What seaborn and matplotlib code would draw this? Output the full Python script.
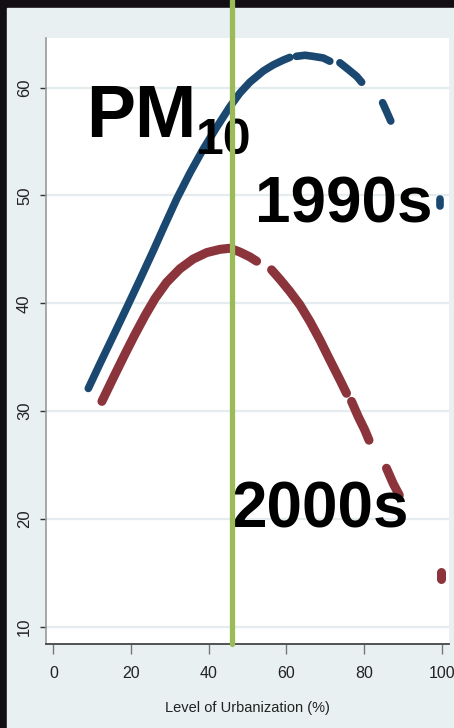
import pandas as pd
import numpy as np
import matplotlib.pyplot as plt
import seaborn as sns
from matplotlib.patches import Rectangle

# readings taken off the fitted curves (x = urbanization %, y = PM10)
# gaps in the bands are kept as separate segments
x_1990s = [9.0, 12.0, 15.4, 18.9, 22.3, 25.7, 28.75, 31.8, 35.2, 38.6, 42.1, 45.5,
           48.05, 50.6, 54.1, 56.6, 59.2, 60.9,
           62.6, 64.8, 66.9, 69.5, 71.2,
           73.8, 75.9, 78.1, 79.4,
           84.8, 85.8, 86.9,
           99.7, 99.7]
y_1990s = [32.1, 34.4, 36.95, 39.6, 42.2, 44.85, 47.3, 49.7, 52.1, 54.3, 56.35, 58.25,
           59.5, 60.5, 61.55, 62.1, 62.55, 62.8,
           62.9, 63.0, 62.9, 62.75, 62.45,
           62.3, 61.7, 61.05, 60.5,
           58.6, 57.8, 56.9,
           49.7, 49.0]
seg_1990s = [1] * 18 + [2] * 5 + [3] * 4 + [4] * 3 + [5] * 2

x_2000s = [12.5, 15.45, 18.46, 21.0, 23.6, 26.2, 29.2, 32.6, 36.0, 39.5, 42.9, 45.5,
           48.05, 50.6, 52.35,
           56.2, 58.4, 60.9, 63.5, 66.1, 68.65, 71.2, 73.8, 75.5,
           76.8, 78.5, 80.2, 81.3,
           85.8, 87.5, 89.1,
           99.9, 99.9]
y_2000s = [30.9, 33.1, 35.3, 37.1, 38.85, 40.45, 41.95, 43.2, 44.1, 44.7, 45.0, 45.1,
           44.75, 44.3, 43.9,
           43.1, 42.2, 41.1, 39.85, 38.3, 36.6, 34.75, 32.9, 31.65,
           30.9, 29.5, 28.25, 27.3,
           24.7, 23.3, 22.2,
           15.1, 14.4]
seg_2000s = [1] * 15 + [2] * 9 + [3] * 4 + [4] * 3 + [5] * 2

turning_point = 46.0
y_ticks = [10, 20, 30, 40, 50, 60]
x_ticks = [0, 20, 40, 60, 80, 100]

blue = '#1b4870'
red = '#8c343b'
green = '#9bbb59'

sns.set_style('white')

df90 = pd.DataFrame({'x': x_1990s, 'y': y_1990s, 'seg': seg_1990s})
df00 = pd.DataFrame({'x': x_2000s, 'y': y_2000s, 'seg': seg_2000s})

fig = plt.figure(figsize=(4.54, 7.28), dpi=100)
fig.patch.set_facecolor('#130e14')
fig.add_artist(Rectangle((7 / 454, 0), 1 - 7 / 454, 1 - 8 / 728,
                         transform=fig.transFigure, color='#e8f0f2', zorder=-1))

ax = fig.add_axes([46 / 454, 1 - 644 / 728, 403 / 454, 606 / 728])
ax.set_facecolor('white')

for y in y_ticks:
    ax.axhline(y, color='#e4ecef', lw=1.6, zorder=0)

sns.lineplot(data=df90, x='x', y='y', units='seg', estimator=None, sort=False,
             color=blue, lw=5.5, solid_capstyle='round', ax=ax, zorder=2)
sns.lineplot(data=df00, x='x', y='y', units='seg', estimator=None, sort=False,
             color=red, lw=6.5, solid_capstyle='round', ax=ax, zorder=2)

ax.axvline(turning_point, ymin=0, ymax=1 + 38 / 606, color=green, lw=3.8,
           clip_on=False, zorder=6)

big = dict(family=['Liberation Sans', 'DejaVu Sans'], fontweight='bold',
           color='black', ha='left', va='baseline', zorder=4)
ax.text(8.4, 55.45, 'PM', fontsize=53, **big)
ax.text(36.6, 53.8, '10', fontsize=36, **big)
ax.text(52.0, 47.5, '1990s', fontsize=46, **big)
ax.text(45.9, 19.2, '2000s', fontsize=46, **big)

ax.set_xlim(-1.9, 101.9)
ax.set_ylim(8.4, 64.6)
ax.set_xticks(x_ticks)
ax.set_yticks(y_ticks)

sans = ['Liberation Sans', 'DejaVu Sans']
ax.set_xticklabels([str(t) for t in x_ticks], family=sans, fontsize=11.5, color='#222222')
ax.set_yticklabels([str(t) for t in y_ticks], family=sans,
                   fontsize=12, rotation=90, va='center', color='#222222')
ax.tick_params(axis='x', length=7.5, width=1, color='#777777', pad=8, bottom=True)
ax.tick_params(axis='y', length=4, width=1, color='#333333', pad=6, left=True)

ax.set_xlabel('Level of Urbanization (%)', family=sans, fontsize=10.5, color='#222222',
              labelpad=15)
ax.set_ylabel('')

for side in ['top', 'right']:
    ax.spines[side].set_visible(False)
ax.spines['left'].set_color('#999999')
ax.spines['left'].set_linewidth(1.2)
ax.spines['bottom'].set_color('#444444')
ax.spines['bottom'].set_linewidth(1.3)

fig.savefig('out.png', dpi=100, facecolor=fig.get_facecolor())
plt.close()
